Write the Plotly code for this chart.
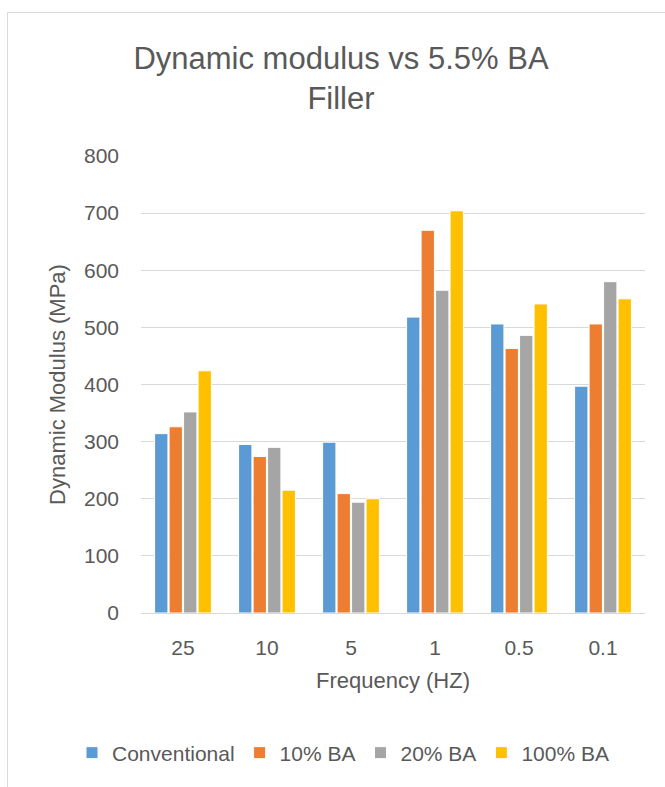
import plotly.graph_objects as go

categories = ["25", "10", "5", "1", "0.5", "0.1"]
conventional = [314, 295, 299, 518, 506, 397]
ba10 = [326, 274, 209, 670, 463, 506]
ba20 = [352, 290, 194, 565, 486, 580]
ba100 = [424, 215, 200, 704, 541, 550]

series = [
    ("Conventional", conventional, "#5B9BD5"),
    ("10% BA", ba10, "#ED7D31"),
    ("20% BA", ba20, "#A5A5A5"),
    ("100% BA", ba100, "#FFC000"),
]

W, H = 665, 787
L, R, T, B = 141, 20, 156, 174
pw, ph = W - L - R, H - T - B

fig = go.Figure()
for name, vals, col in series:
    fig.add_trace(go.Bar(
        x=categories, y=vals, name=name,
        marker=dict(color=col, line=dict(color="white", width=1)),
    ))

font = "Liberation Sans, Arial, sans-serif"
grey = "#595959"

def px_x(x):
    return (x - L) / pw

def px_y(y):
    return (H - B - y) / ph

fig.update_layout(
    width=W, height=H,
    margin=dict(l=L, r=R, t=T, b=B, autoexpand=False),
    paper_bgcolor="white", plot_bgcolor="white",
    barmode="group", bargap=0.31, bargroupgap=0.08,
    font=dict(family=font, color=grey, size=21),
    title=dict(text="Dynamic modulus vs 5.5% BA<br>Filler", x=341/W, xanchor="center",
               y=1 - 69 / H, yanchor="middle",
               font=dict(size=31, color=grey, family=font)),
    xaxis=dict(title=dict(text="Frequency (HZ)", font=dict(size=22, color=grey), standoff=14),
               tickfont=dict(size=21, color=grey), showline=True, linecolor="#D9D9D9",
               linewidth=1, ticks="", showgrid=False, ticklabelstandoff=16, automargin=False),
    yaxis=dict(title=dict(text="Dynamic Modulus (MPa)", font=dict(size=22, color=grey), standoff=12),
               range=[0, 800], dtick=100, tickfont=dict(size=21, color=grey),
               showgrid=True, gridcolor="#D9D9D9", gridwidth=1, zeroline=False,
               ticks="", showline=False, ticklabelstandoff=21, automargin=False),
    legend=dict(orientation="h", x=px_x(72), xanchor="left",
                y=px_y(753), yanchor="middle",
                font=dict(size=21, color=grey), itemwidth=30, traceorder="normal"),
    shapes=[
        dict(type="line", xref="paper", yref="paper", x0=px_x(7.5), x1=px_x(7.5),
             y0=px_y(12.5), y1=px_y(H + 5), line=dict(color="#D9D9D9", width=1)),
        dict(type="line", xref="paper", yref="paper", x0=px_x(7.5), x1=px_x(W + 5),
             y0=px_y(12.5), y1=px_y(12.5), line=dict(color="#D9D9D9", width=1)),
    ],
)

fig.write_html("out.html")
